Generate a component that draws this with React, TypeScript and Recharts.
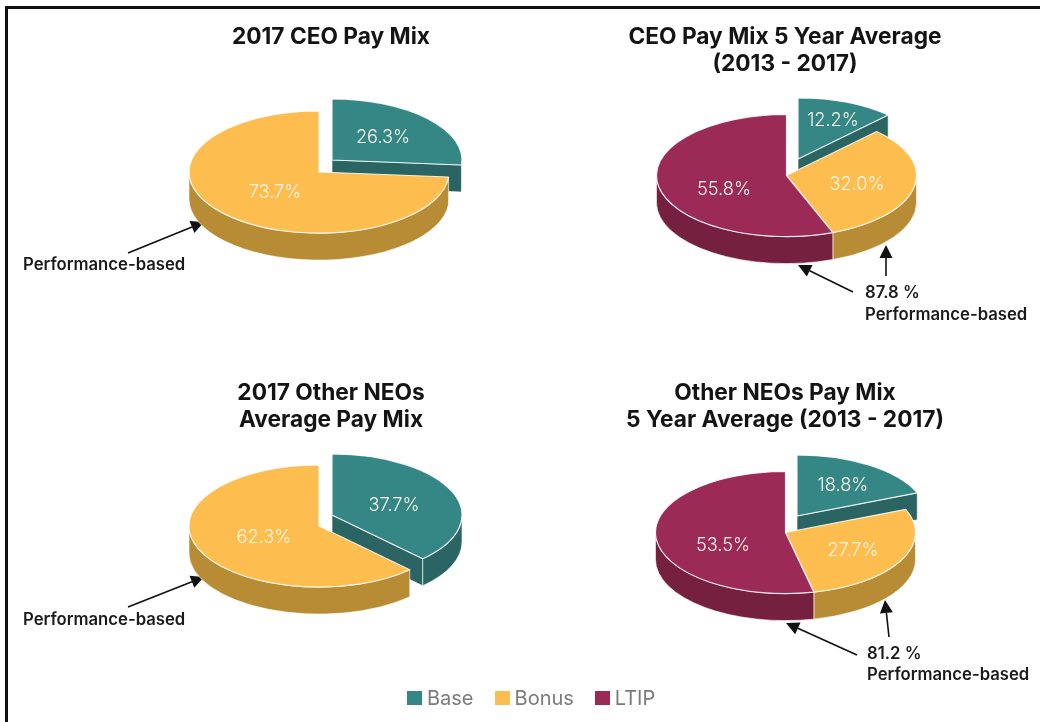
import React from "react";
import { PieChart, Pie, Legend } from "recharts";

// ---- data ----
const seriesNames = ["Base", "Bonus", "LTIP"];
const ceo2017Values = [26.3, 73.7];
const ceoAverageValues = [12.2, 32.0, 55.8];
const neo2017Values = [37.7, 62.3];
const neoAverageValues = [18.8, 27.7, 53.5];
const titles = [
  ["2017 CEO Pay Mix"],
  ["CEO Pay Mix 5 Year Average", "(2013 - 2017)"],
  ["2017 Other NEOs", "Average Pay Mix"],
  ["Other NEOs Pay Mix", "5 Year Average (2013 - 2017)"],
];
const performanceLabel = "Performance-based";
const ceoAverageNote = "87.8 %";
const neoAverageNote = "81.2 %";

// ---- styles and layout ----
const FONT = "Inter, 'Liberation Sans', sans-serif";
const TOP: Record<string, string> = { Base: "#358786", Bonus: "#FDBD4F", LTIP: "#9C2A56" };
const SIDE: Record<string, string> = { Base: "#2A6564", Bonus: "#B78C34", LTIP: "#762040" };
const R = 130;
const SQUASH = 0.47;
const DEPTH = 27;

type Off = Record<string, [number, number]>;
const pies: { values: number[]; cx: number; cy: number; off: Off; labels: [number, number][] }[] = [
  { values: ceo2017Values, cx: 324, cy: 166, off: { Base: [8, -6], Bonus: [-5, 6] }, labels: [[383, 136], [275, 191]] },
  { values: ceoAverageValues, cx: 790, cy: 168, off: { Base: [8, -9], Bonus: [-3.5, 7.5], LTIP: [-3.5, 7.5] }, labels: [[833, 119], [857, 183], [724, 188]] },
  { values: neo2017Values, cx: 324, cy: 520, off: { Base: [8, -5], Bonus: [-5, 6] }, labels: [[394, 504], [264, 536]] },
  { values: neoAverageValues, cx: 790, cy: 525, off: { Base: [7, -9], Bonus: [-4.5, 7.5], LTIP: [-4.5, 7.5] }, labels: [[843, 484], [853, 549], [723, 544]] },
];
const titleRows = [
  { x: 331, ys: [35] },
  { x: 785, ys: [35, 62] },
  { x: 331, ys: [391, 418] },
  { x: 785, ys: [391, 418] },
];
const arrows: [number, number, number, number][] = [
  [128, 253, 204, 222],
  [128, 607, 204, 577],
  [853, 292, 798, 265],
  [886, 276, 886, 245],
  [857, 655, 786, 623],
  [889, 637, 885, 600],
];
const notes: { x: number; y: number; text: string }[] = [
  { x: 23, y: 264, text: performanceLabel },
  { x: 23, y: 619, text: performanceLabel },
  { x: 865, y: 292, text: ceoAverageNote },
  { x: 865, y: 314, text: performanceLabel },
  { x: 867, y: 653, text: neoAverageNote },
  { x: 867, y: 674, text: performanceLabel },
];

const tableFor = (values: number[]) => values.map((value, i) => ({ name: seriesNames[i], value }));

const makeSlice = (off: Off) => (props: any) => {
  const { cx, cy, outerRadius, startAngle, endAngle, name, payload } = props;
  const key = name ?? payload?.name;
  const [dx, dy] = off[key] ?? [0, 0];
  const vx = cx + dx;
  const vy = cy + dy;
  const rx = outerRadius;
  const ry = outerRadius * SQUASH;
  // angle measured clockwise from the top of the pie
  const t0 = 90 - startAngle;
  const t1 = 90 - endAngle;
  const pt = (t: number, d = 0): [number, number] => {
    const a = (t * Math.PI) / 180;
    return [vx + rx * Math.sin(a), vy - ry * Math.cos(a) + d];
  };
  const [sx, sy] = pt(t0);
  const [ex, ey] = pt(t1);
  const large = t1 - t0 > 180 ? 1 : 0;
  const top = `M${vx},${vy} L${sx},${sy} A${rx},${ry} 0 ${large} 1 ${ex},${ey} Z`;
  const faces: string[] = [];
  const radial = (t: number) => {
    const [x, y] = pt(t);
    return `M${vx},${vy} L${x},${y} L${x},${y + DEPTH} L${vx},${vy + DEPTH} Z`;
  };
  if (Math.sin((t0 * Math.PI) / 180) < -0.001) faces.push(radial(t0));
  if (Math.sin((t1 * Math.PI) / 180) > 0.001) faces.push(radial(t1));
  const w0 = Math.max(t0, 90);
  const w1 = Math.min(t1, 270);
  let wall = "";
  if (w1 > w0) {
    const [ax, ay] = pt(w0);
    const [bx, by] = pt(w1);
    wall = `M${ax},${ay} A${rx},${ry} 0 0 1 ${bx},${by} L${bx},${by + DEPTH} A${rx},${ry} 0 0 0 ${ax},${ay + DEPTH} Z`;
  }
  return (
    <g>
      {faces.map((d, i) => (
        <path key={i} d={d} fill={SIDE[key]} stroke="#ffffff" strokeOpacity={0.6} strokeWidth={1} />
      ))}
      {wall && <path d={wall} fill={SIDE[key]} stroke="#ffffff" strokeOpacity={0.6} strokeWidth={1} />}
      <path d={top} fill={TOP[key]} stroke="#ffffff" strokeOpacity={0.85} strokeWidth={1.2} strokeLinejoin="round" />
    </g>
  );
};

const makeLabel = (positions: [number, number][]) => (props: any) => {
  const [x, y] = positions[props.index];
  return (
    <text x={x} y={y} textAnchor="middle" dominantBaseline="central" fontFamily={FONT} fontSize={18.2} fontWeight={300} fill="#FBF6E6">
      {`${Number(props.value).toFixed(1)}%`}
    </text>
  );
};

const Arrow = ({ line }: { line: [number, number, number, number] }) => {
  const [x0, y0, x1, y1] = line;
  const a = Math.atan2(y1 - y0, x1 - x0);
  const len = 13;
  const half = 6.5;
  const bx = x1 - len * Math.cos(a);
  const by = y1 - len * Math.sin(a);
  const nx = -Math.sin(a) * half;
  const ny = Math.cos(a) * half;
  return (
    <g>
      <line x1={x0} y1={y0} x2={bx} y2={by} stroke="#111" strokeWidth={1.6} />
      <polygon points={`${x1},${y1} ${bx + nx},${by + ny} ${bx - nx},${by - ny}`} fill="#111" />
    </g>
  );
};

const LegendRow = () => (
  <div style={{ display: "flex", alignItems: "center", paddingLeft: 407, fontFamily: FONT, fontSize: 20, color: "#7b7b7b", height: 28 }}>
    {seriesNames.map((n) => (
      <div key={n} style={{ display: "flex", alignItems: "center", marginRight: 21 }}>
        <span style={{ width: 15, height: 14, background: TOP[n], marginRight: 5, display: "inline-block" }} />
        <span>{n}</span>
      </div>
    ))}
  </div>
);

export default function App() {
  return (
    <div style={{ position: "absolute", left: 0, top: 0, width: 1040, height: 722, background: "#fff", overflow: "hidden" }}>
      <div style={{ position: "absolute", left: 5, top: 6, right: 0, height: 3, background: "#111" }} />
      <div style={{ position: "absolute", left: 5, top: 6, bottom: 0, width: 3, background: "#111" }} />
      <div style={{ position: "absolute", left: 0, top: 0, filter: "blur(0.6px)" }}>
        <PieChart width={1040} height={722} margin={{ top: 0, right: 0, bottom: 0, left: 0 }}>
          {pies.map((p, i) => (
            <Pie
              key={i}
              data={tableFor(p.values)}
              dataKey="value"
              nameKey="name"
              cx={p.cx}
              cy={p.cy}
              outerRadius={R}
              startAngle={90}
              endAngle={-270}
              stroke="none"
              isAnimationActive={false}
              shape={makeSlice(p.off)}
              label={makeLabel(p.labels)}
              labelLine={false}
            />
          ))}
          <Legend content={<LegendRow />} wrapperStyle={{ left: 0, top: 684, width: 1040, height: 28 }} />
          <g>
            {titles.map((rows, i) =>
              rows.map((t, j) => (
                <text key={`${i}-${j}`} x={titleRows[i].x} y={titleRows[i].ys[j]} textAnchor="middle" dominantBaseline="central" fontFamily={FONT} fontSize={22.7} fontWeight={700} fill="#141414">
                  {t}
                </text>
              ))
            )}
            {arrows.map((a, i) => (
              <Arrow key={i} line={a} />
            ))}
            {notes.map((n, i) => (
              <text key={i} x={n.x} y={n.y} dominantBaseline="central" fontFamily={FONT} fontSize={16.7} fontWeight={600} fill="#1a1a1a">
                {n.text}
              </text>
            ))}
          </g>
        </PieChart>
      </div>
    </div>
  );
}
